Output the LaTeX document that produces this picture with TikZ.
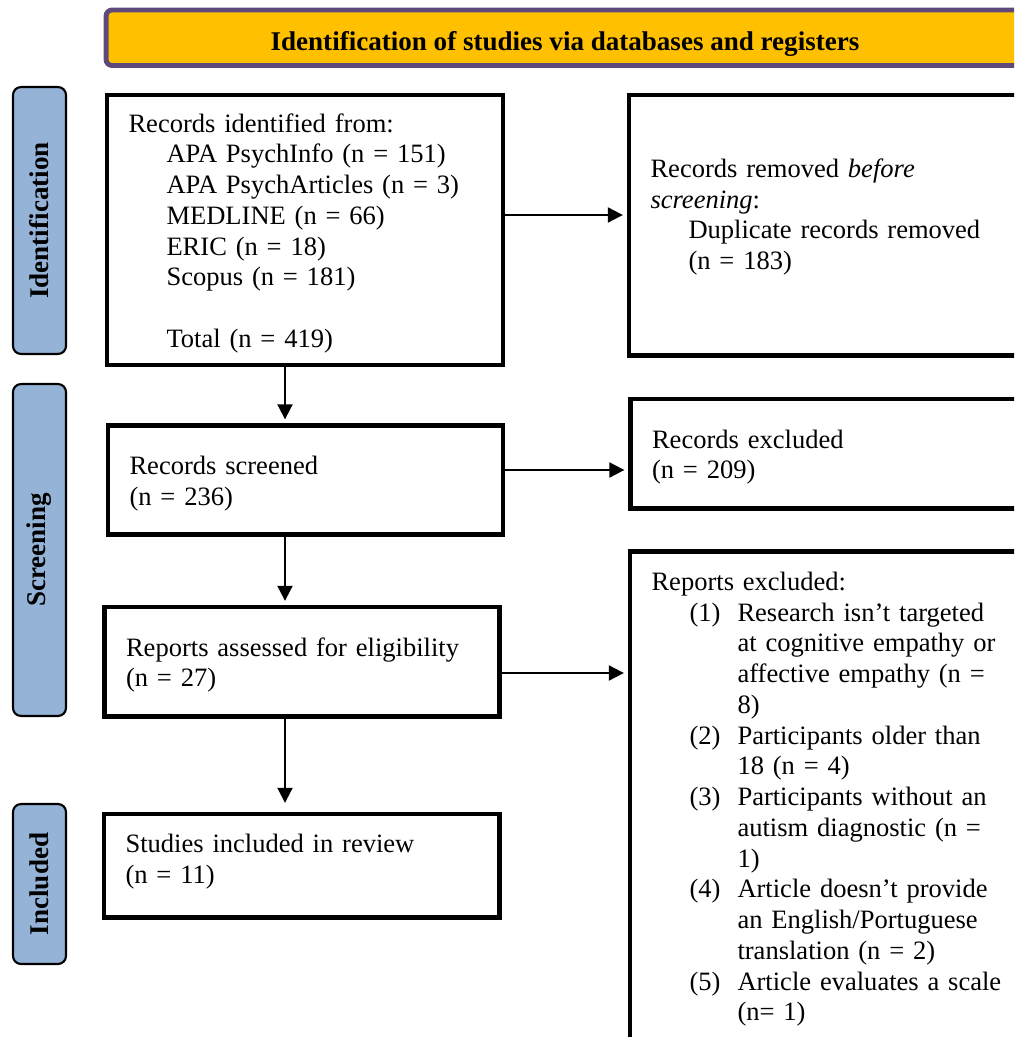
\documentclass[tikz,border=0pt]{standalone}
\usepackage{fontspec}
\setmainfont{Liberation Serif}
\usepackage{tikz}
\usetikzlibrary{arrows.meta}

\definecolor{headfill}{HTML}{FFC000}
\definecolor{headline}{HTML}{5F497A}
\definecolor{stagefill}{HTML}{95B3D7}

\newcommand{\ind}{\hspace*{0.76cm}}
\newcommand{\exitem}[1]{\hspace*{0.76cm}\makebox[0.96cm][l]{#1}}
\newcommand{\excont}{\hspace*{1.72cm}}
\newcommand{\lowstrut}[1]{\rule[-#1]{0pt}{#1}}

\begin{document}
\begin{tikzpicture}[x=0.02cm, y=-0.02cm,
  box/.style={draw=black, line width=2.5pt, align=left, inner xsep=0.43cm, inner ysep=0pt, font=\fontsize{15.1pt}{17.5pt}\selectfont, execute at begin node={\rule{0pt}{14.3pt}}},
  stage/.style={draw=black, line width=1.2pt, fill=stagefill, rounded corners=0.16cm, rotate=90, minimum height=1.06cm, inner sep=0pt, font=\bfseries\fontsize{15.4pt}{17.5pt}\selectfont},
  arr/.style={-{Triangle[length=0.3cm, width=0.3cm]}, line width=1.1pt, shorten >=0.08cm}]

\useasboundingbox (0,0) rectangle (1014,1037);
\clip (0,0) rectangle (1014,1037);

\node [draw=headline, line width=2.8pt, fill=headfill, rounded corners=0.12cm, minimum width=18.36cm, minimum height=1.11cm, text height=0.53cm, text depth=0pt, font=\bfseries\fontsize{15.4pt}{17.5pt}\selectfont] (head) at (565,37.75) {Identification of studies via databases and registers};

\node [stage, minimum width=5.34cm] (lab_id) at (39.5,220.5) {Identification};
\node [stage, minimum width=6.64cm] (lab_scr) at (39.5,550) {Screening};
\node [stage, minimum width=3.2cm] (lab_inc) at (39.5,884) {Included};

\node [box, minimum width=7.92cm, minimum height=5.4cm, text width=7.06cm] (rec_id) at (305,230) {Records identified from:\\
\ind APA PsychInfo (n = 151)\\
\ind APA PsychArticles (n = 3)\\
\ind MEDLINE (n = 66)\\
\ind ERIC (n = 18)\\
\ind Scopus (n = 181)\\[17.5pt]
\ind Total (n = 419)};

\node [box, minimum width=8.22cm, minimum height=5.21cm, text width=7.36cm] (rec_rm) at (834.5,225.25) {Records removed \textit{before}\\
\textit{screening}:\\
\ind Duplicate records removed\\
\ind (n = 183)\lowstrut{0.57cm}};

\node [box, minimum width=7.9cm, minimum height=2.18cm, text width=7.04cm] (rec_scr) at (305.5,480) {Records screened\\
(n = 236)};

\node [box, minimum width=8.19cm, minimum height=2.19cm, text width=7.33cm] (rec_exc) at (835.25,453.75) {Records excluded\\
(n = 209)};

\node [box, minimum width=7.9cm, minimum height=2.19cm, text width=7.04cm] (rep_ass) at (302,661.75) {Reports assessed for eligibility\\
(n = 27)};

\node [box, minimum width=8.2cm, minimum height=10.97cm, text width=7.34cm] (rep_exc) at (835,825.75) {Reports excluded:\\
\exitem{(1)}Research isn’t targeted\\
\excont at cognitive empathy or\\
\excont affective empathy (n =\\
\excont 8)\\
\exitem{(2)}Participants older than\\
\excont 18 (n = 4)\\
\exitem{(3)}Participants without an\\
\excont autism diagnostic (n =\\
\excont 1)\\
\exitem{(4)}Article doesn’t provide\\
\excont an English/Portuguese\\
\excont translation (n = 2)\\
\exitem{(5)}Article evaluates a scale\\
\excont (n= 1)\lowstrut{1.31cm}};

\node [box, minimum width=7.91cm, minimum height=2.07cm, text width=7.05cm] (stu_inc) at (301.75,865.75) {Studies included in review\\
(n = 11)\lowstrut{0.42cm}};

\draw[arr] (rec_id.east |- 0,215) -- (rec_rm.west |- 0,215);
\draw[arr] (rec_scr.east |- 0,470) -- (rec_exc.west |- 0,470);
\draw[arr] (rep_ass.east |- 0,673) -- (rep_exc.west |- 0,673);

\draw[arr] (rec_id.south -| 285,0) -- (rec_scr.north -| 285,0);
\draw[arr] (rec_scr.south -| 285,0) -- (rep_ass.north -| 285,0);
\draw[arr, shorten >=0.18cm] (rep_ass.south -| 285,0) -- (stu_inc.north -| 285,0);

\end{tikzpicture}
\end{document}
